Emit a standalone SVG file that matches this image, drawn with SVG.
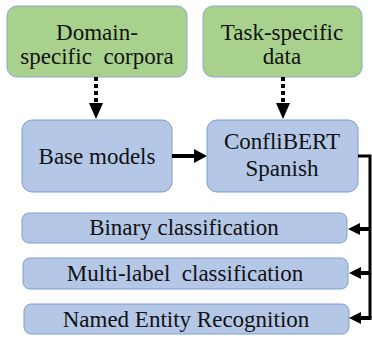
<svg xmlns="http://www.w3.org/2000/svg" width="372" height="339" viewBox="0 0 372 339">
<defs>
<style>
.g{fill:#a9d18e;stroke:#8fa9c4;stroke-width:1}
.b{fill:#b4c7e7;stroke:#7f9dcc;stroke-width:1}
.t{font-family:'Liberation Serif','Times New Roman',Times,Tinos,'Nimbus Roman','Noto Serif','DejaVu Serif',FreeSerif,serif;font-size:23px;fill:#111;text-anchor:middle}
.ln{fill:none;stroke:#000;stroke-width:4}
.dot{fill:none;stroke:#000;stroke-width:4;stroke-dasharray:4 3}
</style>
</defs>
<rect width="372" height="339" fill="#fff"/>
<g id="domain">
<rect class="g" x="7" y="6" width="180" height="71" rx="10"/>
<text class="t" x="97" y="40">Domain-</text>
<text class="t" x="97" y="64" xml:space="preserve">specific  corpora</text>
</g>
<g id="task">
<rect class="g" x="203" y="6" width="159" height="71" rx="10"/>
<text class="t" x="282" y="40">Task-specific</text>
<text class="t" x="282" y="64">data</text>
</g>
<g id="base">
<rect class="b" x="22" y="120" width="150" height="72" rx="10"/>
<text class="t" x="97" y="164">Base models</text>
</g>
<g id="confli">
<rect class="b" x="207" y="120" width="151" height="72" rx="10"/>
<text class="t" x="282" y="149">ConfliBERT</text>
<text class="t" x="282" y="176">Spanish</text>
</g>
<g id="binary">
<rect class="b" x="22" y="213" width="325" height="30" rx="7"/>
<text class="t" x="184" y="235">Binary classification</text>
</g>
<g id="multi">
<rect class="b" x="23" y="258" width="325" height="31" rx="7"/>
<text class="t" x="185" y="281" xml:space="preserve">Multi-label  classification</text>
</g>
<g id="ner">
<rect class="b" x="24" y="304" width="325" height="30" rx="7"/>
<text class="t" x="186" y="327">Named Entity Recognition</text>
</g>
<g id="connectors">
<line class="dot" x1="96" y1="77" x2="96" y2="103"/>
<polygon points="89,103 103,103 96,119"/>
<line class="dot" x1="283" y1="77" x2="283" y2="103"/>
<polygon points="276,103 290,103 283,119"/>
<line class="ln" x1="172" y1="156" x2="195" y2="156"/>
<polygon points="194,149 207,156 194,163"/>
<polyline fill="none" stroke="#000" stroke-width="3" points="358,156 370,156 370,318"/>
<line class="ln" x1="359" y1="229" x2="370" y2="229"/>
<polygon points="360,223 348,229 360,235"/>
<line class="ln" x1="359" y1="273" x2="370" y2="273"/>
<polygon points="361,267 349,273 361,279"/>
<line class="ln" x1="359" y1="318" x2="371.5" y2="318"/>
<polygon points="361,312 349,318 361,324"/>
</g>
</svg>
